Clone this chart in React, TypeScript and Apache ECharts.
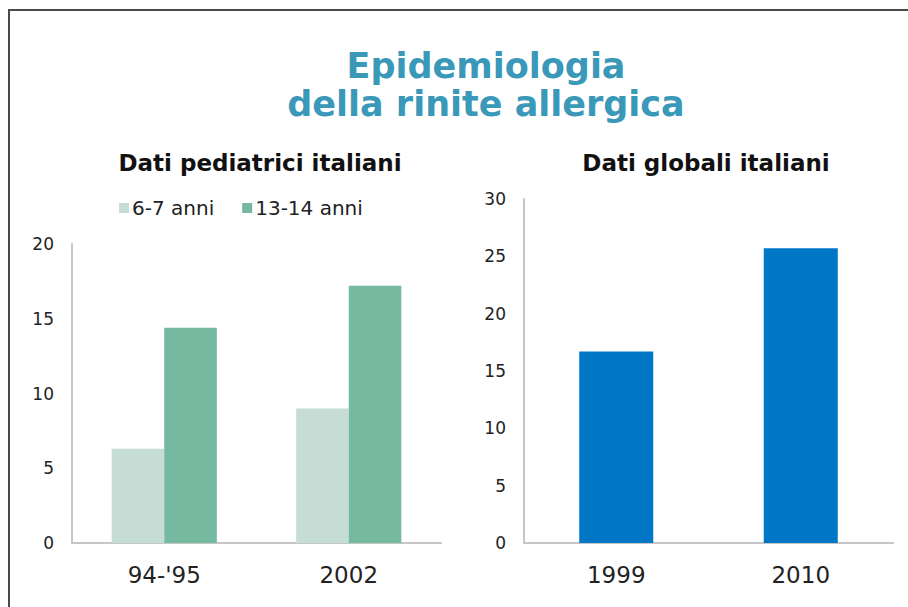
import React, { useEffect, useRef } from "react";
import * as echarts from "echarts";

const titleLines = ["Epidemiologia", "della rinite allergica"];
const leftTitle = "Dati pediatrici italiani";
const rightTitle = "Dati globali italiani";

const leftCategories = ["94-'95", "2002"];
const seriesNames = ["6-7 anni", "13-14 anni"];
const kids67 = [6.3, 9.0];
const kids1314 = [14.4, 17.2];

const rightCategories = ["1999", "2010"];
const globalValues = [16.7, 25.7];

const FONT = "'DejaVu Sans', Verdana, sans-serif";

export default function App() {
  const ref = useRef<HTMLDivElement>(null);
  useEffect(() => {
    if (!ref.current) return;
    const chart = echarts.init(ref.current, undefined, { renderer: "svg" });
    const axisLine = { show: true, lineStyle: { color: "#c6c6c6", width: 2 } };
    const yLabel = { fontSize: 17, color: "#222", fontFamily: FONT, margin: 18 };
    const xLabel = { fontSize: 23, color: "#222", fontFamily: FONT, margin: 20 };
    const titleStyle = (t: string) => ({
      text: t,
      fill: "#3a98b8",
      font: `bold 35px ${FONT}`,
      textAlign: "center",
      textVerticalAlign: "middle",
    });
    chart.setOption({
      animation: false,
      backgroundColor: "#ffffff",
      legend: {
        data: seriesNames,
        left: 114,
        top: 193,
        icon: "rect",
        itemWidth: 10,
        itemHeight: 10,
        itemGap: 28,
        textStyle: { fontSize: 20, color: "#222", fontFamily: FONT, padding: [0, 0, 0, -2] },
      },
      grid: [
        { left: 72, top: 244, width: 369, height: 299, containLabel: false },
        { left: 524, top: 199, width: 369, height: 344, containLabel: false },
      ],
      xAxis: [
        {
          type: "category",
          gridIndex: 0,
          data: leftCategories,
          axisLine,
          axisTick: { show: false },
          axisLabel: xLabel,
        },
        {
          type: "category",
          gridIndex: 1,
          data: rightCategories,
          axisLine,
          axisTick: { show: false },
          axisLabel: xLabel,
        },
      ],
      yAxis: [
        {
          type: "value",
          gridIndex: 0,
          min: 0,
          max: 20,
          interval: 5,
          axisLine,
          axisTick: { show: false },
          splitLine: { show: false },
          axisLabel: yLabel,
        },
        {
          type: "value",
          gridIndex: 1,
          min: 0,
          max: 30,
          interval: 5,
          axisLine,
          axisTick: { show: false },
          splitLine: { show: false },
          axisLabel: yLabel,
        },
      ],
      series: [
        {
          name: seriesNames[0],
          type: "bar",
          xAxisIndex: 0,
          yAxisIndex: 0,
          data: kids67,
          barGap: "0%",
          barCategoryGap: "43%",
          itemStyle: { color: "#c6ddd6" },
        },
        {
          name: seriesNames[1],
          type: "bar",
          xAxisIndex: 0,
          yAxisIndex: 0,
          data: kids1314,
          barGap: "0%",
          barCategoryGap: "43%",
          itemStyle: { color: "#75b9a1" },
        },
        {
          name: "Globali",
          type: "bar",
          xAxisIndex: 1,
          yAxisIndex: 1,
          data: globalValues,
          barWidth: 74,
          itemStyle: { color: "#0077c6" },
        },
      ],
      graphic: [
        { type: "line", shape: { x1: 8, y1: 10, x2: 908, y2: 10 }, style: { stroke: "#4a4a4a", lineWidth: 2 } },
        { type: "line", shape: { x1: 9, y1: 10, x2: 9, y2: 607 }, style: { stroke: "#4a4a4a", lineWidth: 2 } },
        { type: "text", x: 486, y: 66, style: titleStyle(titleLines[0]) },
        { type: "text", x: 486, y: 104, style: titleStyle(titleLines[1]) },
        {
          type: "text",
          x: 260,
          y: 163,
          style: {
            text: leftTitle,
            fill: "#111",
            font: `bold 23px ${FONT}`,
            textAlign: "center",
            textVerticalAlign: "middle",
          },
        },
        {
          type: "text",
          x: 706,
          y: 163,
          style: {
            text: rightTitle,
            fill: "#111",
            font: `bold 23px ${FONT}`,
            textAlign: "center",
            textVerticalAlign: "middle",
          },
        },
      ],
    });
    return () => chart.dispose();
  }, []);
  return (
    <div
      ref={ref}
      style={{ position: "fixed", left: 0, top: 0, width: 908, height: 607 }}
    />
  );
}
